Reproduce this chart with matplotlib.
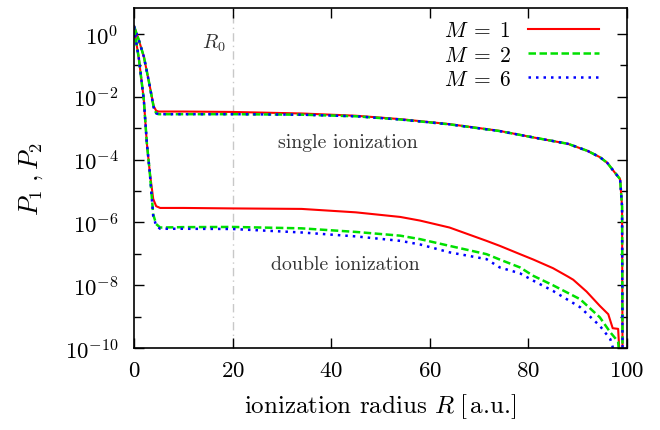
import numpy as np
import matplotlib
matplotlib.use('Agg')
import matplotlib.pyplot as plt
from matplotlib.ticker import FixedLocator, NullFormatter

plt.rcParams['mathtext.fontset'] = 'cm'
plt.rcParams['font.family'] = ['cmr10', 'DejaVu Serif']
plt.rcParams['axes.unicode_minus'] = False
plt.rcParams['axes.formatter.use_mathtext'] = True

# single ionization P1
r_p1 = [0, 1, 2, 3, 4, 4.5, 5, 10, 20, 34, 45, 54, 64, 74, 81, 88, 92, 94.5, 96, 97.2, 98.6, 99.0, 99.1]
p1_m1 = [1.8, 6.3e-1, 1.9e-1, 3.2e-2, 5.0e-3, 3.6e-3, 3.4e-3, 3.4e-3, 3.3e-3, 2.95e-3, 2.5e-3,
         1.95e-3, 1.35e-3, 8.3e-4, 5.1e-4, 3.2e-4, 1.9e-4, 1.2e-4, 7.9e-5, 4.5e-5, 2.4e-5, 3.2e-6, 3e-11]
p1_m2 = [1.8, 6.3e-1, 1.9e-1, 3.2e-2, 4.6e-3, 3.0e-3, 2.8e-3, 2.8e-3, 2.8e-3, 2.7e-3, 2.4e-3,
         1.9e-3, 1.33e-3, 8.2e-4, 5.1e-4, 3.2e-4, 1.9e-4, 1.2e-4, 7.9e-5, 4.5e-5, 2.4e-5, 3.2e-6, 3e-11]
p1_m6 = [1.8, 6.3e-1, 1.9e-1, 3.2e-2, 4.6e-3, 3.0e-3, 2.8e-3, 2.8e-3, 2.8e-3, 2.7e-3, 2.4e-3,
         1.9e-3, 1.33e-3, 8.2e-4, 5.1e-4, 3.2e-4, 1.9e-4, 1.2e-4, 7.9e-5, 4.5e-5, 2.4e-5, 3.2e-6, 3e-11]

# double ionization P2
r_p2_m1 = [0, 1, 2, 2.6, 3.2, 3.9, 4.5, 5.3, 10, 20, 34, 45, 54, 58, 64, 71.5, 74.2, 78.3, 81, 85,
           88, 89.1, 91.8, 94.5, 96.2, 97.1, 98.2, 98.6]
p2_m1 = [1.6, 1.6e-1, 7.9e-3, 3.5e-4, 4.0e-5, 5.6e-6, 3.3e-6, 2.9e-6, 2.9e-6, 2.8e-6, 2.7e-6,
         2.1e-6, 1.5e-6, 1.15e-6, 6.9e-7, 2.6e-7, 1.8e-7, 9.8e-8, 6.6e-8, 3.5e-8, 1.9e-8,
         1.5e-8, 6.3e-9, 2.2e-9, 1.2e-9, 4.3e-10, 4.1e-10, 3e-11]
r_p2 = [0, 1, 2, 2.6, 3.2, 3.9, 4.5, 5.3, 10, 20, 34, 45, 54, 58, 64, 71.5, 74.2, 78.3, 81, 85,
        90.5, 94.5, 96.6, 98.2, 98.6]
p2_m2 = [1.6, 1.6e-1, 7.9e-3, 3.5e-4, 4.0e-5, 1.8e-6, 8.9e-7, 6.9e-7, 7.1e-7, 7.2e-7, 6.5e-7,
         5.0e-7, 3.8e-7, 2.95e-7, 1.8e-7, 9.8e-8, 6.6e-8, 3.7e-8, 2.0e-8, 1.0e-8, 3.6e-9,
         9.5e-10, 3.2e-10, 1.6e-10, 3e-11]
r_p2_m6 = [0, 1, 2, 2.6, 3.2, 3.9, 4.5, 5.3, 10, 20, 34, 45, 54, 58, 64, 71.5, 74.2, 78.3, 81, 85,
           90.5, 94.5, 96.6, 97.6]
p2_m6 = [1.6, 1.6e-1, 7.9e-3, 3.5e-4, 4.0e-5, 1.6e-6, 7.9e-7, 6.3e-7, 6.3e-7, 6.2e-7, 4.8e-7,
         3.6e-7, 2.6e-7, 2.0e-7, 1.12e-7, 6.8e-8, 3.7e-8, 2.4e-8, 1.4e-8, 6.6e-9, 2.0e-9,
         5.1e-10, 1.95e-10, 6e-11]

fig = plt.figure(figsize=(6.6, 4.31), dpi=100)
ax = fig.add_axes([0.203, 0.19, 0.747, 0.789])

ax.axvline(20, color='#c8c8c8', lw=1.0, ls=(0, (6, 3, 1, 3)), zorder=1)

kw_r = dict(color='#ff0000', lw=1.5, ls='-')
kw_g = dict(color='#00e000', lw=1.8, ls=(0, (3, 1.4)))
kw_b = dict(color='#0000ff', lw=1.8, ls=(0, (1, 2)))

ax.plot(r_p1, p1_m1, label='$M\\;=\\;1$', **kw_r)
ax.plot(r_p1, p1_m2, label='$M\\;=\\;2$', **kw_g)
ax.plot(r_p1, p1_m6, label='$M\\;=\\;6$', **kw_b)
ax.plot(r_p2_m1, p2_m1, **kw_r)
ax.plot(r_p2, p2_m2, **kw_g)
ax.plot(r_p2_m6, p2_m6, **kw_b)

ax.set_yscale('log')
ax.set_xlim(0, 100)
ax.set_ylim(1e-10, 6.7)

ax.set_xticks([0, 20, 40, 60, 80, 100])
ax.set_xticklabels(['$0$', '$20$', '$40$', '$60$', '$80$', '$100$'])
ax.yaxis.set_major_locator(FixedLocator([1e0, 1e-2, 1e-4, 1e-6, 1e-8, 1e-10]))
ax.set_yticklabels(['$10^{0}$', '$10^{-2}$', '$10^{-4}$', '$10^{-6}$', '$10^{-8}$', '$10^{-10}$'])
ax.yaxis.set_minor_locator(FixedLocator([1e-1, 1e-3, 1e-5, 1e-7, 1e-9]))
ax.yaxis.set_minor_formatter(NullFormatter())
ax.tick_params(which='both', direction='in', top=True, right=True, labelsize=16.5)
ax.tick_params(which='major', length=7, width=1)
ax.tick_params(axis='x', which='major', pad=9)
ax.tick_params(axis='y', which='major', pad=11)
ax.tick_params(which='minor', length=5, width=1)
for s in ax.spines.values():
    s.set_linewidth(1.2)

ax.set_xlabel('ionization radius $R\\;[\\,$a.u.$]$', fontsize=18, labelpad=8)
ax.set_ylabel('$P_1\\;,P_2$', fontsize=19, labelpad=14)

ax.text(18.6, 0.55, '$R_0$', fontsize=14.5, ha='right', va='center', color='#333333')
ax.text(43.4, 3.6e-4, 'single ionization', fontsize=14.3, ha='center', va='center', color='#333333')
ax.text(42.8, 4.7e-8, 'double ionization', fontsize=14.3, ha='center', va='center', color='#333333')

ax.legend(loc='upper right', frameon=False, markerfirst=False, fontsize=15.5,
          handlelength=3.3, labelspacing=0.22, borderaxespad=0.2, bbox_to_anchor=(0.97, 1.0))

fig.savefig('out.png', dpi=100)
